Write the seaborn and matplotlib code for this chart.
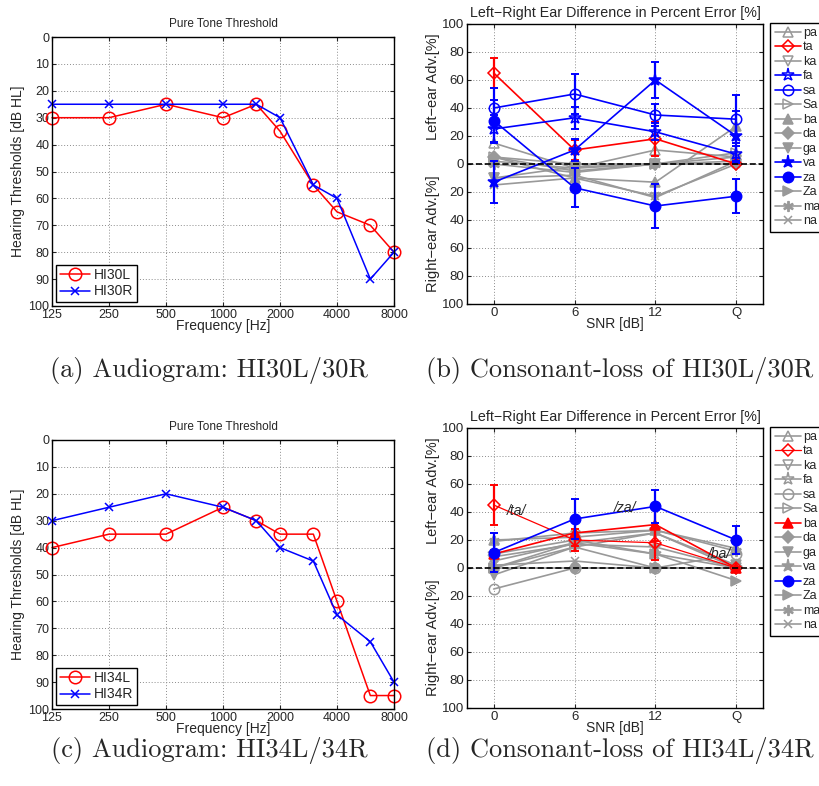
import numpy as np
import pandas as pd
import matplotlib
matplotlib.use("Agg")
import matplotlib.pyplot as plt
import seaborn as sns
from matplotlib.ticker import FixedLocator, NullLocator
from matplotlib.transforms import blended_transform_factory

# ---------------- audiogram data ----------------
freqs = [125, 250, 500, 1000, 1500, 2000, 3000, 4000, 6000, 8000]
freq_ticks = [125, 250, 500, 1000, 2000, 4000, 8000]
hi30L = [30, 30, 25, 30, 25, 35, 55, 65, 70, 80]
hi30R = [25, 25, 25, 25, 25, 30, 55, 60, 90, 80]
hi34L = [40, 35, 35, 25, 30, 35, 35, 60, 95, 95]
hi34R = [30, 25, 20, 25, 30, 40, 45, 65, 75, 90]

# ---------------- consonant-loss data ----------------
snr_labels = ["0", "6", "12", "Q"]
consonants = ["pa", "ta", "ka", "fa", "sa", "Sa", "ba", "da", "ga", "va", "za", "Za", "ma", "na"]

hi30_vals = {
    "pa": [15, -3, 10, 5],
    "ta": [65, 10, 18, 0],
    "ka": [-10, -8, -24, 2],
    "fa": [25, 33, 23, 7],
    "sa": [40, 50, 35, 32],
    "Sa": [5, -5, 0, 8],
    "ba": [5, -10, -13, 27],
    "da": [5, 0, 0, 0],
    "ga": [-10, -2, 0, 0],
    "va": [-13, 10, 60, 20],
    "za": [31, -17, -30, -23],
    "Za": [2, -3, 0, 2],
    "ma": [0, -6, 0, 5],
    "na": [-15, -10, -23, 0],
}
hi30_err = {
    "ta": [11, 7, 12, 0],
    "fa": [10, 8, 6, 6],
    "sa": [14, 14, 8, 17],
    "va": [15, 8, 13, 18],
    "za": [15, 14, 16, 12],
}
hi30_colors = {"ta": "red", "fa": "blue", "sa": "blue", "va": "blue", "za": "blue"}

hi34_vals = {
    "pa": [20, 22, 27, 14],
    "ta": [45, 20, 18, 0],
    "ka": [5, 18, 25, 0],
    "fa": [10, 20, 10, 0],
    "sa": [-15, 0, 0, 10],
    "Sa": [0, 15, 0, 0],
    "ba": [10, 25, 31, 0],
    "da": [0, 0, 0, 0],
    "ga": [-5, 15, 25, 2],
    "va": [8, 17, 15, 0],
    "za": [11, 35, 44, 20],
    "Za": [0, 18, 10, -9],
    "ma": [19, 25, 27, 12],
    "na": [2, 5, 0, 0],
}
hi34_err = {
    "ta": [14, 8, 12, 0],
    "ba": [3, 9, 12, 1],
    "za": [14, 14, 12, 10],
}
hi34_colors = {"ta": "red", "ba": "red", "za": "blue"}

# marker shape and whether it is filled
marker_style = {
    "pa": ("^", False), "ta": ("D", False), "ka": ("v", False), "fa": ("*", False),
    "sa": ("o", False), "Sa": (">", False), "ba": ("^", True), "da": ("D", True),
    "ga": ("v", True), "va": ("*", True), "za": ("o", True), "Za": (">", True),
    "ma": ("$\u2217$", True), "na": ("x", True),
}
marker_size = {"^": 7.5, "v": 7.5, ">": 7.5, "D": 6, "o": 7.5, "*": 9.5,
               "x": 5.5, "$\u2217$": 7}

GRAY = (0.6, 0.6, 0.6)
FONT = ["Liberation Sans", "DejaVu Sans"]

sns.set_style("ticks")
plt.rcParams["font.family"] = FONT
plt.rcParams["axes.linewidth"] = 1.0
plt.rcParams["xtick.direction"] = "in"
plt.rcParams["ytick.direction"] = "in"
plt.rcParams["xtick.major.size"] = 3
plt.rcParams["ytick.major.size"] = 3

W, H = 820, 786
fig = plt.figure(figsize=(W / 100, H / 100), dpi=100)


def px_axes(left, top, right, bottom):
    return fig.add_axes([left / W, 1 - bottom / H, (right - left) / W, (bottom - top) / H])


def style_frame(ax, labelsize):
    for s in ax.spines.values():
        s.set_visible(True)
        s.set_color("black")
    ax.tick_params(top=True, right=True, labelsize=labelsize, pad=2, length=3, width=0.8)
    ax.grid(True, linestyle=(0, (1, 2)), color="0.55", linewidth=0.7)


def audiogram(ax, left, right, lab_l, lab_r):
    df = pd.DataFrame({"freq": freqs, "L": left, "R": right})
    sns.lineplot(data=df, x="freq", y="L", ax=ax, color="red", marker="o",
                 markersize=9, markerfacecolor="none", markeredgecolor="red",
                 markeredgewidth=1.1, linewidth=1.1, label=lab_l, clip_on=False,
                 legend=False)
    sns.lineplot(data=df, x="freq", y="R", ax=ax, color="blue", marker="x",
                 markersize=6, markeredgecolor="blue", markeredgewidth=1.1,
                 linewidth=1.1, label=lab_r, clip_on=False, legend=False)
    ax.set_xscale("log", base=2)
    ax.set_xlim(125, 8000)
    ax.xaxis.set_major_locator(FixedLocator(freq_ticks))
    ax.xaxis.set_minor_locator(NullLocator())
    ax.set_xticklabels([str(f) for f in freq_ticks])
    ax.set_ylim(100, 0)
    ax.set_yticks(np.arange(0, 101, 10))
    style_frame(ax, 9)
    ax.set_title("Pure Tone Threshold", fontsize=8.5, pad=7)
    ax.set_xlabel("Frequency [Hz]", fontsize=10, labelpad=-1)
    ax.set_ylabel("Hearing Thresholds [dB HL]", fontsize=10, labelpad=2)
    leg = ax.legend(loc="lower left", fontsize=10, fancybox=False, framealpha=1,
                    edgecolor="black", borderpad=0.25, handlelength=2.2,
                    handletextpad=0.3, labelspacing=0.15, borderaxespad=0.3)
    leg.get_frame().set_linewidth(1.0)


def consonant_panel(ax, vals, errs, colors, notes):
    xs = np.arange(1, 5)
    # gray (non-significant) curves first, coloured ones on top
    order = [c for c in consonants if c not in colors] + [c for c in consonants if c in colors]
    handles = {}
    for c in order:
        col = colors.get(c, GRAY)
        mk, filled = marker_style[c]
        df = pd.DataFrame({"snr": xs, "diff": vals[c]})
        lw = 1.2
        if c == "ta" and "ba" in colors:
            lw = 0.9
        sns.lineplot(data=df, x="snr", y="diff", ax=ax, color=col, marker=mk,
                     markersize=marker_size[mk],
                     markerfacecolor=(col if filled else "none"),
                     markeredgecolor=col, markeredgewidth=1.1, linewidth=lw,
                     label=c, legend=False, zorder=3 if c in colors else 2)
        handles[c] = ax.lines[-1]
        if c in errs:
            ax.errorbar(xs, vals[c], yerr=errs[c], fmt="none", ecolor=col,
                        elinewidth=1.6, capsize=3, capthick=1.4, zorder=3)
    ax.axhline(0, color="black", linestyle="--", linewidth=1.2, zorder=4)
    ax.set_xlim(0.67, 4.33)
    ax.set_xticks(xs)
    ax.set_xticklabels(snr_labels)
    ax.set_ylim(-100, 100)
    yt = np.arange(-100, 101, 20)
    ax.set_yticks(yt)
    ax.set_yticklabels([str(abs(v)) for v in yt])
    style_frame(ax, 9.5)
    ax.set_title("Left\u2212Right Ear Difference in Percent Error [%]", fontsize=10.3, pad=5)
    ax.set_xlabel("SNR [dB]", fontsize=10, labelpad=-1)
    ax.set_ylabel("")
    tr = blended_transform_factory(ax.transAxes, ax.transData)
    ax.text(-0.115, 55, "Left\u2212ear Adv.[%]", transform=tr, rotation=90,
            ha="center", va="center", fontsize=10.5)
    ax.text(-0.115, -50, "Right\u2212ear Adv.[%]", transform=tr, rotation=90,
            ha="center", va="center", fontsize=10.5)
    for x, y, s in notes:
        ax.text(x, y, s, fontsize=10, style="italic", ha="left", va="center", zorder=5)
    leg = ax.legend([handles[c] for c in consonants], consonants,
                    loc="upper left", bbox_to_anchor=(1.025, 1.005), fontsize=9,
                    fancybox=False, framealpha=1, edgecolor="black",
                    borderpad=0.35, handlelength=2.1, handletextpad=0.15,
                    labelspacing=0.2, borderaxespad=0)
    leg.get_frame().set_linewidth(1.0)


ax_a = px_axes(52, 37, 394, 306)
audiogram(ax_a, hi30L, hi30R, "HI30L", "HI30R")

ax_b = px_axes(467, 24, 763, 304)
consonant_panel(ax_b, hi30_vals, hi30_err, hi30_colors, [])

ax_c = px_axes(52, 440, 394, 709)
audiogram(ax_c, hi34L, hi34R, "HI34L", "HI34R")

ax_d = px_axes(467, 428, 763, 708)
consonant_panel(ax_d, hi34_vals, hi34_err, hi34_colors,
                [(1.16, 41, "/ta/"), (2.48, 43, "/za/"), (3.65, 10, "/ba/")])

cap_font = dict(fontsize=19, family=["cmr10", "DejaVu Serif"], ha="center", va="baseline")
fig.text(209 / W, 1 - 377 / H, "(a) Audiogram: HI30L/30R", **cap_font)
fig.text(620 / W, 1 - 377 / H, "(b) Consonant-loss of HI30L/30R", **cap_font)
fig.text(209 / W, 1 - 757 / H, "(c) Audiogram: HI34L/34R", **cap_font)
fig.text(620 / W, 1 - 757 / H, "(d) Consonant-loss of HI34L/34R", **cap_font)

fig.savefig("out.png", dpi=100)
